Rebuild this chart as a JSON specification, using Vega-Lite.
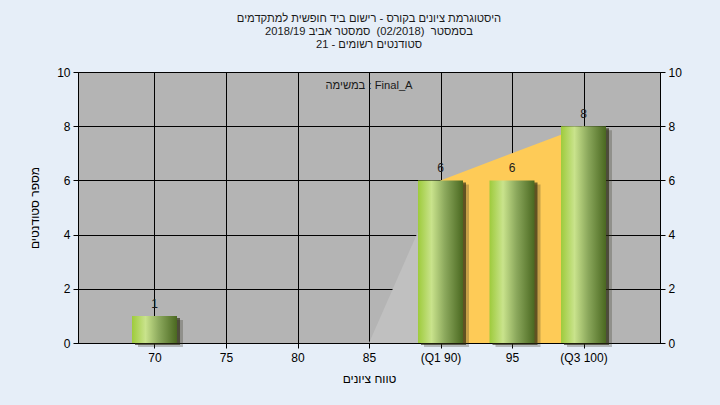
{
  "$schema": "https://vega.github.io/schema/vega-lite/v6.json",
  "autosize": "none",
  "padding": {"left": 78, "top": 72, "right": 60, "bottom": 62},
  "width": 582,
  "height": 271,
  "background": "#e6eef8",
  "config": {
    "font": "Liberation Sans",
    "view": {"fill": "#b4b4b4", "stroke": "#000000", "strokeWidth": 1},
    "axis": {
      "labelFont": "Liberation Sans",
      "labelFontSize": 12,
      "labelColor": "#000000",
      "titleFont": "Liberation Sans",
      "titleFontSize": 12,
      "titleFontWeight": "normal",
      "titleColor": "#000000",
      "domainColor": "#000000",
      "tickColor": "#000000",
      "gridColor": "#000000",
      "gridOpacity": 1,
      "gridWidth": 1
    }
  },
  "title": {
    "text": [
      "היסטוגרמת ציונים בקורס - רישום ביד חופשית למתקדמים",
      "בסמסטר\u00a0\u00a0(02/2018)\u00a0\u00a0סמסטר אביב 2018/19",
      "סטודנטים רשומים - 21"
    ],
    "font": "Liberation Sans",
    "fontSize": 11.2,
    "fontWeight": "normal",
    "color": "#1a1a1a",
    "lineHeight": 13,
    "anchor": "middle",
    "frame": "group",
    "offset": 16
  },
  "datasets": {
    "bars": [
      {"grade": 70, "count": 1},
      {"grade": 90, "count": 6},
      {"grade": 95, "count": 6},
      {"grade": 100, "count": 8}
    ],
    "lowArea": [
      {"grade": 85, "count": 0},
      {"grade": 90, "count": 6}
    ],
    "iqrArea": [
      {"grade": 90, "count": 6},
      {"grade": 100, "count": 8}
    ],
    "note": [
      {"text": "במשימה : Final_A"}
    ]
  },
  "layer": [
    {
      "layer": [
        {
          "encoding": {
            "x": {
              "field": "grade",
              "type": "quantitative",
              "scale": {"domain": [65, 105], "nice": false, "zero": false},
              "axis": {
                "values": [70, 75, 80, 85, 90, 95, 100],
                "title": "טווח ציונים",
                "labelExpr": "datum.value == 90 ? '(Q1 90)' : datum.value == 100 ? '(Q3 100)' : datum.label",
                "tickSize": 5,
                "labelPadding": 4,
                "titlePadding": 10,
                "grid": true
              }
            },
            "y": {
              "field": "count",
              "type": "quantitative",
              "scale": {"domain": [0, 10], "nice": false},
              "axis": {
                "values": [0, 2, 4, 6, 8, 10],
                "title": "מספר סטודנטים",
                "tickSize": 5,
                "labelPadding": 3,
                "titlePadding": 15,
                "grid": true
              }
            }
          },
          "layer": [
            {
              "data": {"name": "lowArea"},
              "mark": {"type": "area", "fill": "#c0c0c0", "opacity": 1}
            },
            {
              "data": {"name": "iqrArea"},
              "mark": {"type": "area", "fill": "#fecb57", "opacity": 1}
            },
            {
              "data": {"name": "bars"},
              "mark": {"type": "bar", "size": 45, "fill": "#333322", "opacity": 0.28, "xOffset": 6, "yOffset": 4}
            },
            {
              "data": {"name": "bars"},
              "mark": {"type": "bar", "size": 45, "fill": "#2a2810", "opacity": 0.65, "xOffset": 3, "yOffset": 2}
            },
            {
              "data": {"name": "bars"},
              "mark": {
                "type": "bar",
                "size": 45,
                "fill": {
                  "gradient": "linear",
                  "x1": 0, "y1": 0, "x2": 1, "y2": 0,
                  "stops": [
                    {"offset": 0, "color": "#9ecb3c"},
                    {"offset": 0.3, "color": "#c9e38c"},
                    {"offset": 0.6, "color": "#8ba85c"},
                    {"offset": 1, "color": "#4a6820"}
                  ]
                }
              }
            },
            {
              "data": {"name": "bars"},
              "mark": {"type": "text", "baseline": "bottom", "dy": -5, "fontSize": 12, "color": "#1a1a1a", "font": "Liberation Sans"},
              "encoding": {"text": {"field": "count", "type": "quantitative"}}
            }
          ]
        },
        {
          "data": {"name": "note"},
          "mark": {"type": "text", "baseline": "middle", "align": "center", "fontSize": 11.2, "fill": "#1a1a1a", "font": "Liberation Sans"},
          "encoding": {
            "x": {"datum": 85, "type": "quantitative"},
            "y": {"datum": 9.48, "type": "quantitative"},
            "text": {"field": "text", "type": "nominal"}
          }
        }
      ]
    },
    {
      "data": {"values": [{"v": 0}]},
      "mark": {"type": "rule", "opacity": 0},
      "encoding": {
        "y": {
          "field": "v",
          "type": "quantitative",
          "axis": {
            "orient": "right",
            "values": [0, 2, 4, 6, 8, 10],
            "title": null,
            "tickSize": 5,
            "labelPadding": 3,
            "grid": false
          },
          "scale": {"domain": [0, 10], "nice": false}
        }
      }
    }
  ],
  "resolve": {"scale": {"y": "independent"}, "axis": {"y": "independent"}}
}
